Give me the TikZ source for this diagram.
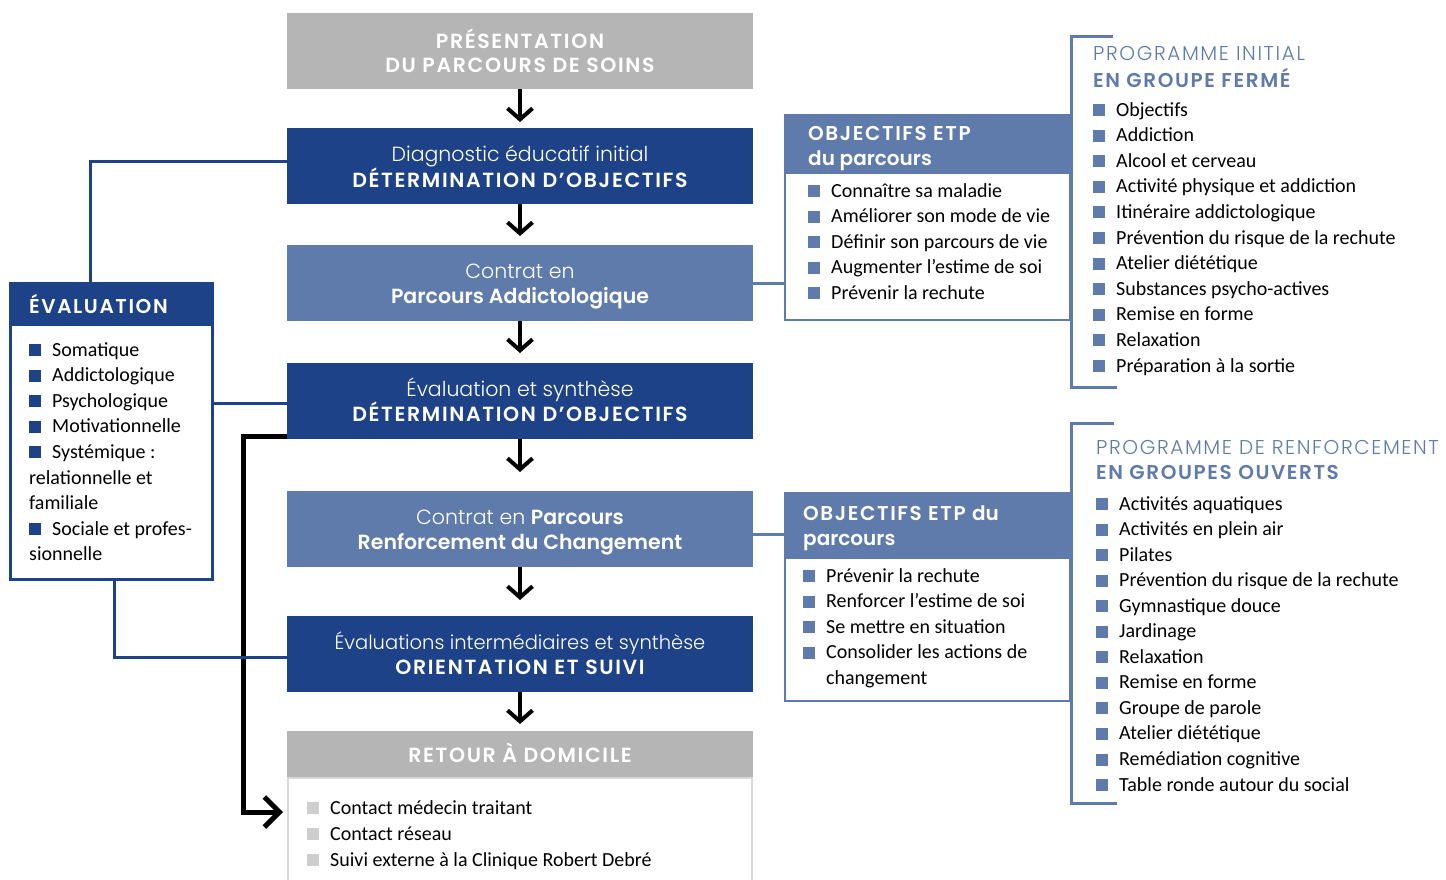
\documentclass[tikz,border=0pt]{standalone}
\usepackage{fontspec}
\setmainfont{Carlito}
\newfontfamily\hb{Poppins SemiBold}
\newfontfamily\hl{Poppins Light}
\newfontfamily\hbc{Poppins SemiBold}[LetterSpace=8]
\newfontfamily\hlc{Poppins Light}[LetterSpace=8]
\usetikzlibrary{arrows.meta,calc}
\definecolor{dblue}{RGB}{29,66,136}
\definecolor{mblue}{RGB}{95,123,171}
\definecolor{gbox}{RGB}{181,181,181}
\definecolor{lgb}{RGB}{206,206,206}
\definecolor{lbord}{RGB}{216,216,216}
\newcommand{\sqb}[1]{\textcolor{#1}{\rule{12pt}{12pt}}\hspace{11pt}}
\newcommand{\eb}{\sqb{dblue}}
\newcommand{\ob}{\sqb{mblue}}
\newcommand{\gb}{\sqb{lgb}}
\begin{document}
\begin{tikzpicture}[x=1pt,y=-1pt,
  stepbox/.style={minimum width=466pt, minimum height=76pt, inner sep=0pt, outer sep=0pt, draw=none},
  hbold/.style={font=\hb\fontsize{20.5}{20.5}\selectfont, text=white, inner sep=0pt, anchor=base},
  hcaps/.style={font=\hbc\fontsize{20.5}{20.5}\selectfont, text=white, inner sep=0pt, anchor=base},
  hlight/.style={font=\hl\fontsize{20.5}{20.5}\selectfont, text=white, inner sep=0pt, anchor=base},
  body/.style={font=\fontsize{20}{20}\selectfont, inner sep=0pt, anchor=base west, text=black},
  obhead/.style={font=\hb\fontsize{20}{20}\selectfont, text=white, inner sep=0pt, anchor=base west},
  obcaps/.style={font=\hbc\fontsize{20}{20}\selectfont, text=white, inner sep=0pt, anchor=base west},
  ptitlel/.style={font=\hlc\fontsize{20}{20}\selectfont, text=mblue, inner sep=0pt, anchor=base west},
  ptitleb/.style={font=\hbc\fontsize{20}{20}\selectfont, text=mblue, inner sep=0pt, anchor=base west},
  darr/.style={line width=4pt, -{Straight Barb[length=11pt,width=25pt]}},
  rarr/.style={line width=5pt, -{Straight Barb[length=15pt,width=30pt]}},
  dline/.style={draw=dblue, line width=3pt},
  mline/.style={draw=mblue, line width=3pt},
]
\useasboundingbox (0,0) rectangle (1446,879);
\clip (0,0) rectangle (1446,879);

% main column
\node[stepbox, fill=gbox]  (b1) at (520,51) {};
\node[stepbox, fill=dblue] (b2) at (520,166) {};
\node[stepbox, fill=mblue] (b3) at (520,283) {};
\node[stepbox, fill=dblue] (b4) at (520,401) {};
\node[stepbox, fill=mblue] (b5) at (520,529) {};
\node[stepbox, fill=dblue] (b6) at (520,654) {};
\node[stepbox, fill=gbox, minimum height=47pt] (b7) at (520,754.5) {};
\node[draw=lbord, line width=2pt, minimum width=464pt, minimum height=112pt, inner sep=0pt, outer sep=0pt] (b8) at (520,834) {};

\node[hcaps]  (t1a) at (520,48)  {PRÉSENTATION};
\node[hcaps]  (t1b) at (520,72)  {DU PARCOURS DE SOINS};
\node[hlight] (t2a) at (520,161) {Diagnostic éducatif initial};
\node[hcaps]  (t2b) at (520,187) {DÉTERMINATION D’OBJECTIFS};
\node[hlight] (t3a) at (520,278) {Contrat en};
\node[hbold]  (t3b) at (520,303) {Parcours Addictologique};
\node[hlight] (t4a) at (520,396) {Évaluation et synthèse};
\node[hcaps]  (t4b) at (520,421) {DÉTERMINATION D’OBJECTIFS};
\node[hlight] (t5a) at (520,524) {Contrat en {\hb Parcours}};
\node[hbold]  (t5b) at (520,549) {Renforcement du Changement};
\node[hlight, font=\hl\fontsize{19.5}{19.5}\selectfont] (t6a) at (520,649) {Évaluations intermédiaires et synthèse};
\node[hcaps]  (t6b) at (520,674) {ORIENTATION ET SUIVI};
\node[hcaps]  (t7)  at (520,762) {RETOUR À DOMICILE};

\foreach \t [count=\i from 0] in {\gb Contact médecin traitant, \gb Contact réseau, \gb Suivi externe à la Clinique Robert Debré}
  \node[body] (r\i) at ({307},{814+26*\i}) {\t};

% arrows in the column
\draw[darr, shorten >=6pt]  (b1.south) -- (b2.north);
\draw[darr, shorten >=9pt]  (b2.south) -- (b3.north);
\draw[darr, shorten >=10pt] (b3.south) -- (b4.north);
\draw[darr, shorten >=19pt] (b4.south) -- (b5.north);
\draw[darr, shorten >=16pt] (b5.south) -- (b6.north);
\draw[darr, shorten >=7pt]  (b6.south) -- (b7.north);

% return arrow
\coordinate (rv) at (243,436);
\draw[rarr, shorten >=5pt] ([yshift=3pt]b4.south west) -- (rv) |- ([yshift=22pt]b8.west);

% evaluation box
\node[draw=dblue, line width=3pt, minimum width=201.5pt, minimum height=296.5pt, inner sep=0pt, outer sep=0pt] (e) at (111.25,431.25) {};
\fill[dblue] (e.north west) rectangle ($(e.north east)+(0,43)$);
\node[font=\hbc\fontsize{20}{20}\selectfont, text=white, inner sep=0pt, anchor=base west] (eh) at (29,313) {ÉVALUATION};
\foreach \t [count=\i from 0] in {\eb Somatique, \eb Addictologique, \eb Psychologique, \eb Motivationnelle, \eb Systémique :, relationnelle et, familiale, \eb Sociale et profes-, sionnelle}
  \node[body] (e\i) at ({29},{356+25.6*\i}) {\t};

\coordinate (et) at ($(e.north west)+(79.5,0)$);
\draw[dline] (et) |- ([yshift=5pt]b2.west);
\coordinate (er) at ($(e.north east)+(0,120)$);
\draw[dline] (er) -- (er -| b4.west);
\coordinate (eb) at ($(e.south west)+(104,0)$);
\draw[dline] (eb) |- ([yshift=-3pt]b6.west);

% objectifs box 1
\node[draw=mblue, line width=2.5pt, minimum width=285pt, minimum height=205pt, inner sep=0pt, outer sep=0pt] (o1) at (927.5,217.5) {};
\fill[mblue] (o1.north west) rectangle ($(o1.north east)+(0,59)$);
\node[obcaps] (o1h1) at (808,140) {OBJECTIFS ETP};
\node[obhead] (o1h2) at (808,165) {du parcours};
\foreach \t [count=\i from 0] in {\ob Connaître sa maladie, \ob Améliorer son mode de vie, \ob Définir son parcours de vie, \ob Augmenter l’estime de soi, \ob Prévenir la rechute}
  \node[body] (oa\i) at ({808},{197+25.6*\i}) {\t};
\draw[mline] (b3.east) -- (b3.east -| o1.west);

% objectifs box 2
\node[draw=mblue, line width=2.5pt, minimum width=285pt, minimum height=208pt, inner sep=0pt, outer sep=0pt] (o2) at (927.5,597) {};
\fill[mblue] (o2.north west) rectangle ($(o2.north east)+(0,66)$);
\node[obcaps] (o2h1) at (803,520) {OBJECTIFS ETP {\hb du}};
\node[obhead] (o2h2) at (803,545) {parcours};
\foreach \t [count=\i from 0] in {\ob Prévenir la rechute, \ob Renforcer l’estime de soi, \ob Se mettre en situation, \ob Consolider les actions de, \hspace*{23pt}changement}
  \node[body] (ob\i) at ({803},{582+25.5*\i}) {\t};
\coordinate (b5r) at ([yshift=-5pt]b5.east);
\draw[mline] (b5r) -- (b5r -| o2.west);

% programme initial
\coordinate (p1t) at (1113,36);
\coordinate (p1b) at (1117,387);
\draw[mline] (p1t) -- (1071,36) -- (1071,387) -- (p1b);
\node[ptitlel] (p1h1) at (1093,60) {PROGRAMME INITIAL};
\node[ptitleb] (p1h2) at (1093,87) {EN GROUPE FERMÉ};
\foreach \t [count=\i from 0] in {Objectifs, Addiction, Alcool et cerveau, Activité physique et addiction, Itinéraire addictologique, Prévention du risque de la rechute, Atelier diététique, Substances psycho-actives, Remise en forme, Relaxation, Préparation à la sortie}
  \node[body] (pa\i) at ({1093},{116+25.6*\i}) {\ob\t};

% programme de renforcement
\coordinate (p2t) at (1114,423);
\coordinate (p2b) at (1117,803);
\draw[mline] (p2t) -- (1071,423) -- (1071,803) -- (p2b);
\node[ptitlel] (p2h1) at (1096,454) {PROGRAMME DE RENFORCEMENT};
\node[ptitleb] (p2h2) at (1096,479) {EN GROUPES OUVERTS};
\foreach \t [count=\i from 0] in {Activités aquatiques, Activités en plein air, Pilates, Prévention du risque de la rechute, Gymnastique douce, Jardinage, Relaxation, Remise en forme, Groupe de parole, Atelier diététique, Remédiation cognitive, Table ronde autour du social}
  \node[body] (pb\i) at ({1096},{510+25.55*\i}) {\ob\t};
\end{tikzpicture}
\end{document}
